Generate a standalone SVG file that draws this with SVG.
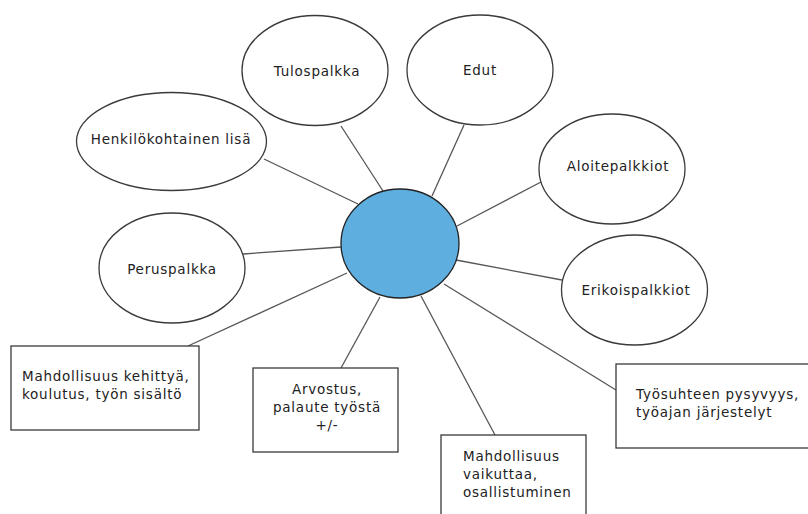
<svg xmlns="http://www.w3.org/2000/svg" width="808" height="514" viewBox="0 0 808 514">
<style>
.n{fill:#fff;stroke:#3a3a3a;stroke-width:1.3}
.c line{stroke:#555;stroke-width:1.3}
text{font-family:"DejaVu Sans","Verdana",sans-serif;font-size:13.5px;letter-spacing:0.75px;fill:#222}
.m{text-anchor:middle}
</style>
<rect width="808" height="514" fill="#fff"/>
<g class="c" id="connectors">
<line x1="341" y1="126" x2="383" y2="191"/>
<line x1="264" y1="159" x2="358" y2="204"/>
<line x1="243" y1="254" x2="341" y2="247"/>
<line x1="464" y1="125" x2="432" y2="196"/>
<line x1="541" y1="182" x2="457" y2="226"/>
<line x1="456" y1="260" x2="562" y2="280"/>
<line x1="444" y1="284" x2="616" y2="390"/>
<line x1="421" y1="296" x2="495" y2="435"/>
<line x1="347" y1="273" x2="188" y2="346"/>
<line x1="380" y1="297" x2="341" y2="368"/>
</g>
<g id="center"><ellipse cx="400" cy="243.5" rx="59" ry="54.5" fill="#5FAEE0" stroke="#222" stroke-width="1.3"/></g>
<g id="tulospalkka"><ellipse class="n" cx="315" cy="70.5" rx="73" ry="55"/><text class="m" x="317" y="76">Tulospalkka</text></g>
<g id="henkilokohtainen"><ellipse class="n" cx="171.5" cy="141.5" rx="95" ry="49"/><text class="m" x="171" y="144">Henkilökohtainen lisä</text></g>
<g id="edut"><ellipse class="n" cx="480" cy="70" rx="73" ry="55"/><text class="m" x="480" y="75">Edut</text></g>
<g id="aloitepalkkiot"><ellipse class="n" cx="612" cy="169" rx="73" ry="55"/><text class="m" x="618" y="171">Aloitepalkkiot</text></g>
<g id="peruspalkka"><ellipse class="n" cx="172" cy="268" rx="73" ry="55"/><text class="m" x="172" y="274">Peruspalkka</text></g>
<g id="erikoispalkkiot"><ellipse class="n" cx="634.5" cy="290" rx="73" ry="55"/><text class="m" x="636" y="295">Erikoispalkkiot</text></g>
<g id="kehittya"><rect class="n" x="11" y="346" width="188" height="84"/><text x="22" y="381">Mahdollisuus kehittyä,</text><text x="22" y="399">koulutus, työn sisältö</text></g>
<g id="arvostus"><rect class="n" x="253" y="368" width="145" height="84"/><text class="m" x="327" y="394">Arvostus,</text><text class="m" x="327" y="412">palaute työstä</text><text class="m" x="327" y="430">+/-</text></g>
<g id="tyosuhde"><rect class="n" x="616" y="364" width="200" height="84"/><text x="636" y="399">Työsuhteen pysyvyys,</text><text x="636" y="417">työajan järjestelyt</text></g>
<g id="vaikuttaa"><rect class="n" x="441" y="435" width="145" height="90"/><text x="463" y="461">Mahdollisuus</text><text x="463" y="479">vaikuttaa,</text><text x="463" y="497">osallistuminen</text></g>
</svg>
